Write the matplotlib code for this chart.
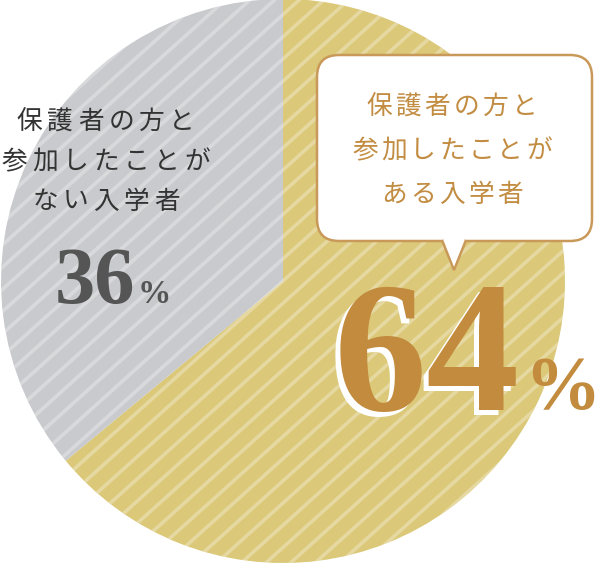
import numpy as np
import matplotlib.pyplot as plt
from matplotlib.patches import FancyBboxPatch, Polygon

plt.rcParams['font.family'] = ['Noto Sans CJK JP', 'DejaVu Sans']

# data
labels = [['保護者の方と', '参加したことが', 'ある入学者'],
          ['保護者の方と', '参加したことが', 'ない入学者']]
shares = [64, 36]
colors = ['#DBC878', '#C9CACE']

W, H = 600, 563
fig = plt.figure(figsize=(6.0, 5.63), dpi=100)
ax = fig.add_axes([0, 0, 1, 1])

cx, cy, r = 283, H - 281, 282
wedges, _ = ax.pie(shares, colors=colors, startangle=90, counterclock=False,
                   center=(cx, cy), radius=r, frame=True,
                   wedgeprops=dict(linewidth=0))
ax.set_xlim(0, W)
ax.set_ylim(0, H)
ax.set_aspect('equal')
ax.axis('off')

# diagonal stripes
ang = np.deg2rad(42)
d = np.array([np.cos(ang), np.sin(ang)])
nrm = np.array([-d[1], d[0]])
for w in wedges:
    for k in np.arange(-40, 40):
        p0 = np.array([cx, cy]) + nrm * k * 16.5
        a = p0 - d * 600
        b = p0 + d * 600
        ln, = ax.plot([a[0], b[0]], [a[1], b[1]], color='white', lw=2.6,
                      alpha=0.3, solid_capstyle='butt')
        ln.set_clip_path(w)


def spaced_text(lines, x, ys, pitch, **kw):
    # draw each character separately to get the wide letter spacing
    for line, y in zip(lines, ys):
        n = len(line)
        for i, ch in enumerate(line):
            ax.text(x + (i - (n - 1) / 2) * pitch, y, ch, ha='center',
                    va='center', **kw)


# speech bubble
bx0, by0, bx1, by1 = 317, H - 241, 592, H - 55
box = FancyBboxPatch((bx0, by0), bx1 - bx0, by1 - by0,
                     boxstyle='round,pad=0,rounding_size=22',
                     fc='white', ec='#C9995A', lw=1.8, zorder=5)
ax.add_patch(box)
tail = Polygon([(442, by0 + 1), (454, H - 270), (466, by0 + 1)], closed=False,
               fc='white', ec='#C9995A', lw=1.8, zorder=6)
ax.add_patch(tail)
ax.add_patch(Polygon([(443.5, by0 + 2.5), (454, H - 266), (464.5, by0 + 2.5)],
                     fc='white', ec='none', zorder=7))

spaced_text(labels[0], 452, [H - 107, H - 151, H - 195], 29,
            fontsize=18.5, color='#C28D42', zorder=8)
spaced_text(labels[1], 106, [H - 122, H - 162, H - 202], 30.5,
            fontsize=18.5, color='#333333', zorder=8)

# percentages
serif = ['Liberation Serif', 'DejaVu Serif']
ax.text(427 - 5, H - 410 - 5, f'{shares[0]}', ha='center', va='baseline',
        fontsize=134, family=serif, fontweight='bold', color='white', zorder=8)
ax.text(427, H - 410, f'{shares[0]}', ha='center', va='baseline',
        fontsize=134, family=serif, fontweight='bold', color='#C38B3D', zorder=9)
ax.text(562, H - 409, '%', ha='center', va='baseline', fontsize=55,
        family=serif, fontweight='bold', color='#C38B3D', zorder=9)

ax.text(95, H - 303, f'{shares[1]}', ha='center', va='baseline', fontsize=58,
        family=serif, fontweight='bold', color='#555555', zorder=8)
ax.text(154, H - 303, '%', ha='center', va='baseline', fontsize=24,
        family=serif, fontweight='bold', color='#555555', zorder=8)

fig.savefig('out.png', dpi=100)
